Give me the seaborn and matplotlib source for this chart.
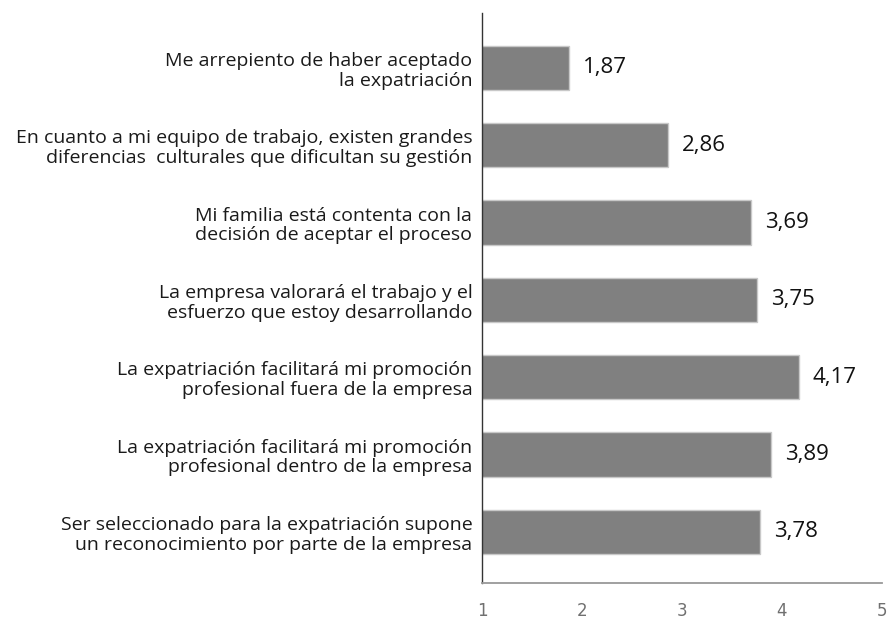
import matplotlib
matplotlib.use("Agg")
import matplotlib.pyplot as plt
import seaborn as sns
import pandas as pd

# data
items = [
    "Me arrepiento de haber aceptado\nla expatriación",
    "En cuanto a mi equipo de trabajo, existen grandes\ndiferencias  culturales que dificultan su gestión",
    "Mi familia está contenta con la\ndecisión de aceptar el proceso",
    "La empresa valorará el trabajo y el\nesfuerzo que estoy desarrollando",
    "La expatriación facilitará mi promoción\nprofesional fuera de la empresa",
    "La expatriación facilitará mi promoción\nprofesional dentro de la empresa",
    "Ser seleccionado para la expatriación supone\nun reconocimiento por parte de la empresa",
]
scores = [1.87, 2.86, 3.69, 3.75, 4.17, 3.89, 3.78]
x_ticks = [1, 2, 3, 4, 5]

df = pd.DataFrame({"item": items, "score": scores})

sns.set_style("white")
plt.rcParams["font.family"] = ["DejaVu Sans"]

fig = plt.figure(figsize=(8.89, 6.21), dpi=100)
ax = fig.add_axes([0.5422, 0.0612, 0.4499, 0.9179])

sns.barplot(data=df, x="score", y="item", orient="h", color="#808080",
            saturation=1, width=0.574, edgecolor="#c8c8c8", linewidth=1, ax=ax)

ax.set_xlim(1, 5)
ax.set_ylim(6.66, -0.71)
ax.set_xticks(x_ticks)
ax.set_xticklabels([str(t) for t in x_ticks])
ax.set_xlabel("")
ax.set_ylabel("")

# value labels with decimal comma
for i, v in enumerate(scores):
    ax.text(v + 0.14, i, f"{v:.2f}".replace(".", ","), va="center", ha="left",
            fontsize=16, color="#111111", family=["Open Sans", "DejaVu Sans"])

ax.set_yticks(range(len(items)))
ax.set_yticklabels(items, fontsize=14, family=["Open Sans", "DejaVu Sans"],
                   color="#1a1a1a", linespacing=1.12)
ax.tick_params(axis="y", length=0, pad=7)
ax.set_yticks([6.66, -0.71], minor=True)
ax.tick_params(axis="y", which="minor", length=5, color="#333333", width=1)
ax.tick_params(axis="x", length=6, color="#999999", width=1.2,
               labelsize=12, labelcolor="#707070", pad=8)

for side in ["top", "right"]:
    ax.spines[side].set_visible(False)
ax.spines["left"].set_color("#333333")
ax.spines["left"].set_linewidth(1)
ax.spines["bottom"].set_color("#999999")
ax.spines["bottom"].set_linewidth(1.3)

fig.savefig("out.png", dpi=100)
